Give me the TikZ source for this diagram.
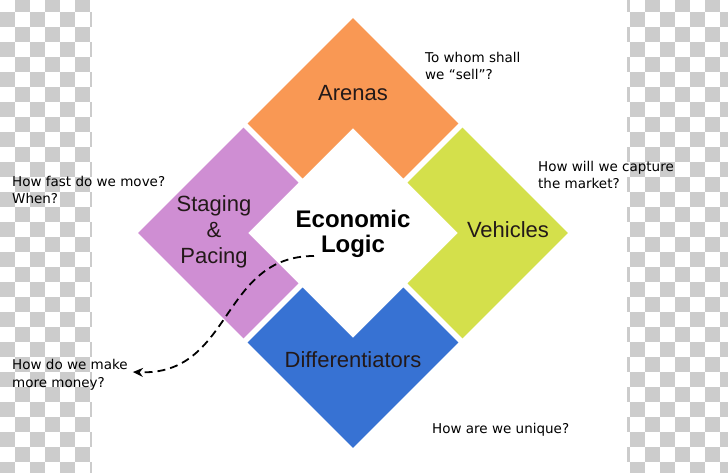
\documentclass[tikz,border=0pt]{standalone}
\usepackage{fontspec}
\setmainfont{Liberation Sans}
\newfontfamily\askfont{DejaVu Sans}
\usetikzlibrary{arrows.meta}
\definecolor{checker}{RGB}{204,204,204}
\definecolor{arenas}{RGB}{249,152,84}
\definecolor{staging}{RGB}{207,142,211}
\definecolor{vehicles}{RGB}{212,224,75}
\definecolor{diffs}{RGB}{55,114,211}
\definecolor{labeltext}{RGB}{35,25,25}
\pgfdeclarelayer{bg}
\pgfsetlayers{bg,main}

\begin{document}
\begin{tikzpicture}[x=1pt,y=1pt,
        block/.style={font=\fontsize{22}{26}\selectfont, text=labeltext, align=center},
        ask/.style={font=\askfont\fontsize{13.5}{17.5}\selectfont, align=left, anchor=west, inner sep=2pt}]
        \useasboundingbox (-353,-240) rectangle (375,233);
        \begin{pgfonlayer}{bg}
                \fill[white] (-353,-240) rectangle (375,233);
                % checkerboard strips
                \begin{scope}
                        \clip (-353,-240) rectangle (-261,233);
                        \foreach \r in {0,...,31} {
                                \pgfmathtruncatemacro\cs{mod(\r+1,2)}
                                \foreach \k in {0,...,3}
                                        \fill[checker] ({15*(2*\k+\cs)-353},{221-15*\r}) rectangle +(15,15);
                        }
                \end{scope}
                \begin{scope}
                        \clip (274,-240) rectangle (375,233);
                        \foreach \r in {0,...,31} {
                                \pgfmathtruncatemacro\cs{mod(\r,2)}
                                \foreach \k in {0,...,4}
                                        \fill[checker] ({15*(41+2*\k+\cs)-353},{221-15*\r}) rectangle +(15,15);
                        }
                \end{scope}
                % the four pieces round the centre
                \begin{scope}[rotate=45]
                        \foreach \sx/\sy/\col in {1/1/arenas,1/-1/vehicles,-1/1/staging,-1/-1/diffs}
                                \fill[\col, xscale=\sx, yscale=\sy] (3,74.2) -- (3,152) -- (152,152)
                                        -- (152,3) -- (74.2,3) -- (74.2,74.2) -- cycle;
                \end{scope}
        \end{pgfonlayer}
        \node[block] (arenas) at (0,140) {Arenas};
        \node[block] (staging) at (-139,1) {Staging\\\&\\Pacing};
        \node[block] (vehicles) at (155,3) {Vehicles};
        \node[block] (diffs) at (0,-127) {Differentiators};
        \node[font=\bfseries\fontsize{24}{25}\selectfont, align=center] (logic) at (0,-1) {Economic\\Logic};
        \node[ask] (sell) at (70,167) {To whom shall\\we “sell”?};
        \node[ask] (capture) at (183,58) {How will we capture\\the market?};
        \node[ask] (move) at (-343,43) {How fast do we move?\\When?};
        \node[ask] (money) at (-343,-142) {How do we make\\more money?};
        \node[ask] (unique) at (77,-197) {How are we unique?};
        \coordinate (start) at (-39,-23);
        \draw[dash pattern=on 8pt off 5pt, line width=1.8pt, -{Stealth[length=10pt,width=9pt]}]
                (start) .. controls +(-94,0) and +(100,-4) .. ([xshift=3pt,yshift=3pt]money.east);
\end{tikzpicture}
\end{document}
